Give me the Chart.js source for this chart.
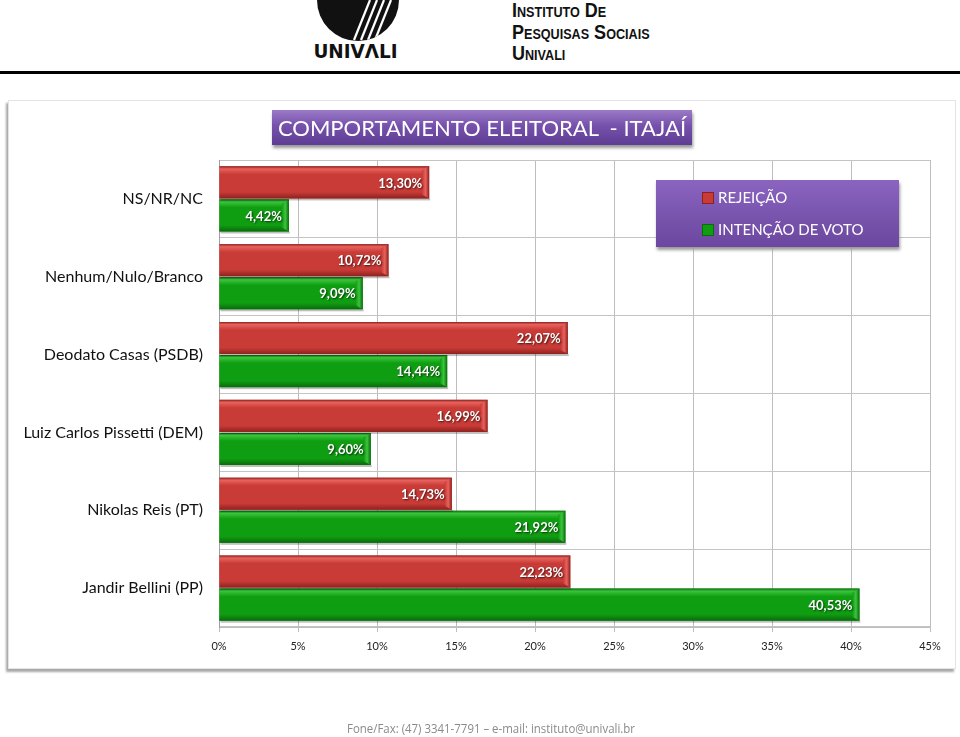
<!DOCTYPE html>
<html><head><meta charset="utf-8">
<script src="https://cdn.jsdelivr.net/npm/chart.js@4/dist/chart.umd.min.js"></script>
<style>
html,body{margin:0;padding:0;background:#fff;width:960px;height:737px;overflow:hidden;font-family:Lato,"Open Sans",sans-serif;}
#wrap{position:relative;width:960px;height:737px;}
#hdrline{position:absolute;left:0;top:71px;width:960px;height:3px;background:#000;}
#panel{position:absolute;left:8px;top:100px;width:946px;height:567px;background:#fff;border:1px solid #e4e4e4;box-shadow:-2px 3px 2px #a8a8a8;}
#logo{position:absolute;left:308px;top:0px;width:100px;height:70px;}
#logotxt{position:absolute;left:308px;top:39px;width:95px;text-align:center;font-family:"DejaVu Sans",sans-serif;font-weight:bold;font-size:20px;letter-spacing:0px;color:#111;transform:scaleX(0.92);transform-origin:center top;}
#inst{position:absolute;left:512px;top:0px;font-family:"Liberation Sans",Arial,sans-serif;font-weight:bold;font-variant:small-caps;font-size:20px;line-height:21.5px;color:#111;transform:scaleX(0.9);transform-origin:left top;}
#title{position:absolute;left:272px;top:110px;width:420px;height:35px;background:linear-gradient(#9b7ac6,#7651ac 45%,#5f3d93);box-shadow:1px 3px 3px #999;color:#fff;font-family:Lato,sans-serif;font-size:22px;line-height:35px;text-align:center;white-space:pre;}
#legend{position:absolute;left:656px;top:180px;width:243px;height:67px;background:linear-gradient(#8a64bf,#6b479f);box-shadow:1px 3px 3px #999;color:#fff;font-family:Lato,sans-serif;font-size:15px;}
.li{position:absolute;left:46px;white-space:nowrap;}
.sw{display:inline-block;width:10px;height:10px;margin-right:4px;vertical-align:-1px;}
#foot{position:absolute;left:347px;top:719px;font-family:"Open Sans",sans-serif;font-size:13px;color:#8a8a8a;transform:scaleX(0.88);transform-origin:left top;white-space:nowrap;}
canvas{position:absolute;left:0;top:0;}
</style></head><body>
<div id="wrap">
<svg id="logo" viewBox="0 0 100 70" width="100" height="70">
  <defs><clipPath id="bowl"><path d="M9 0 H91 A41 41 0 0 1 9 0 Z"/></clipPath></defs>
  <path d="M9 0 H91 A41 41 0 0 1 9 0 Z" fill="#111"/>
  <g clip-path="url(#bowl)" stroke="#fff" stroke-width="2.2">
    <line x1="62" y1="0" x2="46" y2="40"/><line x1="69" y1="0" x2="53" y2="40"/><line x1="76" y1="0" x2="60" y2="40"/><line x1="83" y1="0" x2="67" y2="40"/>
  </g>
</svg>
<div id="logotxt">UNIV&Lambda;LI</div>
<div id="inst">Instituto De<br>Pesquisas Sociais<br>Univali</div>
<div id="hdrline"></div>
<div id="panel"></div>
<canvas id="c" width="960" height="737"></canvas>
<div id="title">COMPORTAMENTO ELEITORAL  - ITAJAÍ</div>
<div id="legend"></div>
<div id="foot">Fone/Fax: (47) 3341-7791 – e-mail: instituto@univali.br</div>
</div>
<script>
const categories = ["NS/NR/NC","Nenhum/Nulo/Branco","Deodato Casas (PSDB)","Luiz Carlos Pissetti (DEM)","Nikolas Reis (PT)","Jandir Bellini (PP)"];
const seriesNames = ["REJEIÇÃO","INTENÇÃO DE VOTO"];
const rejeicao = [13.30,10.72,22.07,16.99,14.73,22.23];
const intencao = [4.42,9.09,14.44,9.60,21.92,40.53];
const xTicks = [0,5,10,15,20,25,30,35,40,45];

const colors = [
  {base:'#c93b37', light:'#e8625d', dark:'#8e211e'},
  {base:'#0f9e12', light:'#3cc43c', dark:'#0a6a0c'}
];

const leg = document.getElementById('legend');
seriesNames.forEach((n,i)=>{
  const d=document.createElement('div'); d.className='li'; d.style.top=(i===0?8:40)+'px';
  d.innerHTML='<span class="sw" style="background:'+colors[i].base+';border:1px solid '+colors[i].dark+'"></span>'+n;
  leg.appendChild(d);
});

const fmt = v => v.toFixed(2).replace('.',',')+'%';

const bevel = {
  id:'bevel',
  afterDatasetDraw(chart, args){
    const c = chart.ctx; const col = colors[args.index];
    const meta = args.meta;
    meta.data.forEach((el,i)=>{
      const {x,y,base,height} = el.getProps(['x','y','base','height'],true);
      const top=y-height/2, w=x-base;
      c.save();
      c.fillStyle='rgba(0,0,0,0.25)'; c.fillRect(base+1, top+height, w, 2);
      const g=c.createLinearGradient(0,top,0,top+height);
      g.addColorStop(0,col.dark); g.addColorStop(0.08,col.light); g.addColorStop(0.25,col.base);
      g.addColorStop(0.8,col.base); g.addColorStop(1,col.dark);
      c.fillStyle=g; c.fillRect(base,top,w,height);
      const g2=c.createLinearGradient(x-7,0,x,0);
      g2.addColorStop(0,col.base); g2.addColorStop(0.5,col.light); g2.addColorStop(1,col.dark);
      c.fillStyle=g2;
      c.beginPath(); c.moveTo(x-7,top+4); c.lineTo(x,top); c.lineTo(x,top+height); c.lineTo(x-7,top+height-4); c.closePath(); c.fill();
      c.font='bold 13px Lato, "Open Sans", sans-serif';
      c.textAlign='right'; c.textBaseline='middle';
      c.shadowColor='rgba(0,0,0,0.7)'; c.shadowBlur=2; c.shadowOffsetX=1; c.shadowOffsetY=1;
      c.fillStyle='#fff';
      c.fillText(fmt(chart.data.datasets[args.index].data[i]), x-7, y+1);
      c.restore();
    });
  }
};

new Chart(document.getElementById('c'), {
  type:'bar',
  data:{labels:categories, datasets:[
    {label:seriesNames[0], data:rejeicao, backgroundColor:colors[0].base},
    {label:seriesNames[1], data:intencao, backgroundColor:colors[1].base}
  ]},
  options:{
    indexAxis:'y', responsive:false, animation:false,
    categoryPercentage:0.85, barPercentage:0.97,
    layout:{padding:{top:160,right:30,left:0,bottom:80}},
    plugins:{legend:{display:false},tooltip:{enabled:false}},
    scales:{
      x:{min:0,max:45,
        afterBuildTicks(s){ s.ticks = xTicks.map(v=>({value:v})); },
        afterFit(s){ s.height=30; },
        ticks:{callback:v=>v+'%', color:'#222', font:{family:'Lato, "Open Sans", sans-serif', size:11}, padding:8, maxRotation:0},
        grid:{color:'#bdbdbd', lineWidth:1, tickLength:5},
        border:{color:'#bdbdbd'}
      },
      y:{
        afterFit(s){ s.width=219; },
        ticks:{color:'#111', font:{family:'Lato, "Open Sans", sans-serif', size:16}, padding:16},
        grid:{color:'#c4c4c4', lineWidth:1, drawTicks:false, offset:true},
        border:{color:'#a0a0a0'}
      }
    }
  },
  plugins:[bevel]
});
</script>
</body></html>
